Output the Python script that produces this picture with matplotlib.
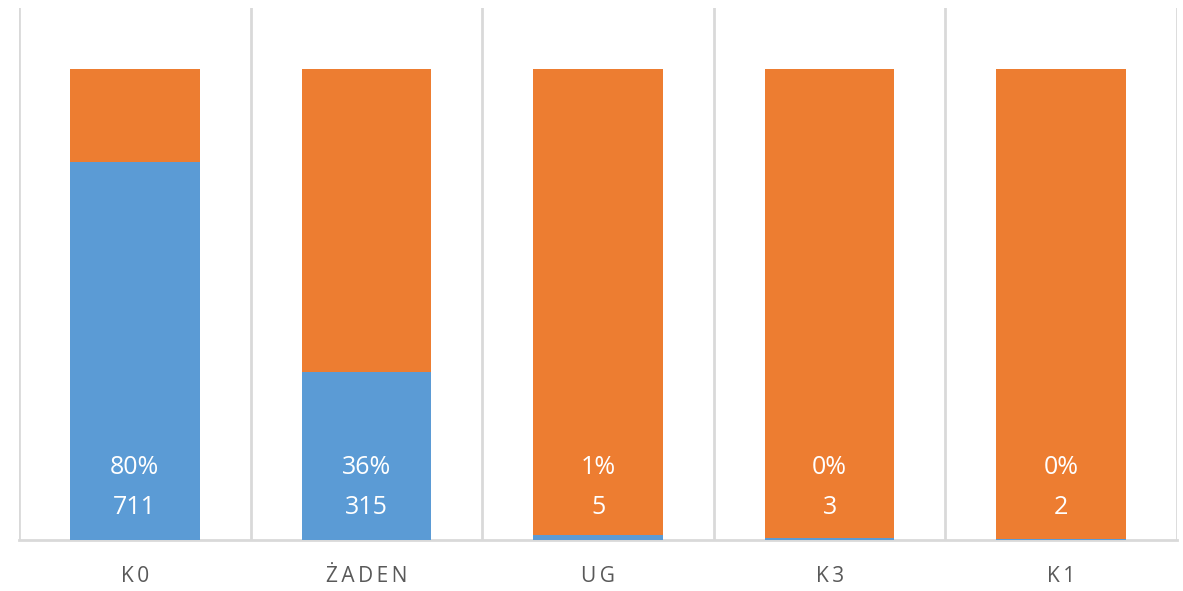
import numpy as np
import matplotlib
matplotlib.use('Agg')
import matplotlib.pyplot as plt

categories = ['K0', 'ŻADEN', 'UG', 'K3', 'K1']
blue_counts = [711, 315, 5, 3, 2]
orange_counts = [175, 567, 495, 870, 880]

blue = np.array(blue_counts, dtype=float)
orange = np.array(orange_counts, dtype=float)
total = blue + orange
blue_share = blue / total
orange_share = orange / total

plt.rcParams['font.family'] = ['Open Sans', 'DejaVu Sans']

fig = plt.figure(figsize=(11.83, 5.91), dpi=100)
ax = fig.add_axes([0.016, 0.0863, 0.979, 0.9002])

x = np.arange(len(categories))
ax.bar(x, blue_share, width=0.56, color='#5b9bd5', zorder=3)
ax.bar(x, orange_share, width=0.56, bottom=blue_share, color='#ed7d31', zorder=3)

# percent and count of the blue series, near the base of each bar
for xi, share, n in zip(x, blue_share, blue_counts):
    ax.text(xi, 0.153, '{:.0f}%'.format(share * 100), ha='center', va='center',
            color='white', fontsize=18, zorder=4)
    ax.text(xi, 0.068, str(n), ha='center', va='center',
            color='white', fontsize=18, zorder=4)

ax.set_xlim(-0.5, len(categories) - 0.5)
ax.set_ylim(0, 1.13)

# vertical separators between categories
ax.set_xticks(np.arange(-0.5, len(categories)), minor=True)
ax.grid(which='minor', axis='x', color='#d9d9d9', linewidth=2, zorder=0)
ax.tick_params(which='both', length=0)

ax.set_xticks(x)
ax.set_xticklabels(['\u2009'.join(c) for c in categories], color='#595959', fontsize=15)
ax.tick_params(axis='x', pad=19)
ax.set_yticks([])

for side in ['top', 'left', 'right']:
    ax.spines[side].set_visible(False)
ax.spines['bottom'].set_color('#d9d9d9')
ax.spines['bottom'].set_linewidth(2)

fig.savefig('out.png', dpi=100, facecolor='white')
